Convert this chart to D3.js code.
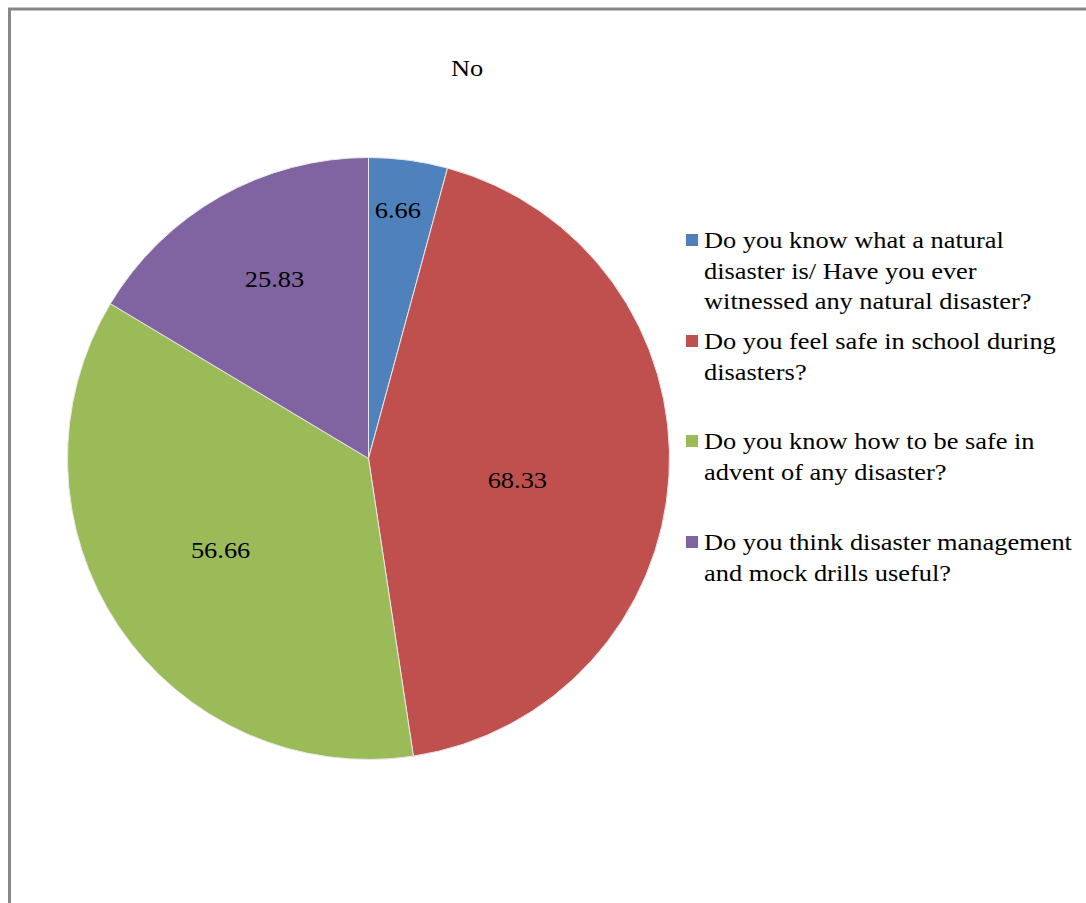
<!DOCTYPE html>
<html>
<head>
<meta charset="utf-8">
<script src="https://cdn.jsdelivr.net/npm/d3@7"></script>
<style>
  body { margin: 0; background: #fff; }
  svg text { font-family: "Liberation Serif", serif; fill: #000; }
</style>
</head>
<body>
<svg id="chart" width="1086" height="903"></svg>
<script>
// chart data
const title = "No";
const questions = [
  "Do you know what a natural disaster is/ Have you ever witnessed any natural disaster?",
  "Do you feel safe in school during disasters?",
  "Do you know how to be safe in advent of any disaster?",
  "Do you think disaster management and mock drills useful?"
];
const legendLines = [
  ["Do you know what a natural", "disaster is/ Have you ever", "witnessed any natural disaster?"],
  ["Do you feel safe in school during", "disasters?"],
  ["Do you know how to be safe in", "advent of any disaster?"],
  ["Do you think disaster management", "and mock drills useful?"]
];
const values = [6.66, 68.33, 56.66, 25.83];
const colors = ["#4F81BD", "#C0504D", "#9BBB59", "#8064A2"];

const svg = d3.select("#chart");
const fontSize = "24px";
const stretch = 1.1; // the original text is a bit wider than Liberation Serif

// outer frame (cut off at right and bottom like the original)
svg.append("rect")
  .attr("x", 9.5).attr("y", 9)
  .attr("width", 1100).attr("height", 920)
  .attr("fill", "none")
  .attr("stroke", "#878787")
  .attr("stroke-width", 3);

// title
svg.append("text")
  .attr("transform", `translate(467,76) scale(${stretch},1)`)
  .attr("text-anchor", "middle")
  .style("font-size", fontSize)
  .text(title);

const cx = 368.5, cy = 458.5, radius = 301;
const g = svg.append("g").attr("transform", `translate(${cx},${cy})`);

const data = questions.map((q, i) => ({ q, value: values[i], color: colors[i] }));
const pie = d3.pie().sort(null).value(d => d.value);
const arcs = pie(data);
const arc = d3.arc().innerRadius(0).outerRadius(radius);

g.selectAll("path.slice")
  .data(arcs)
  .join("path")
  .attr("class", "slice")
  .attr("d", arc)
  .attr("fill", d => d.data.color)
  .attr("stroke", "#e8e8e8")
  .attr("stroke-width", 1);

// label placement (fraction of radius) roughly like excel best fit
const labelFrac = [0.83, 0.5, 0.58, 0.67];
const labelTurn = [-0.015, 0.09, 0.03, 0.03];
g.selectAll("text.lbl")
  .data(arcs)
  .join("text")
  .attr("class", "lbl")
  .attr("text-anchor", "middle")
  .attr("dy", "0.3em")
  .style("font-size", fontSize)
  .attr("transform", (d, i) => {
    const a = (d.startAngle + d.endAngle) / 2 + labelTurn[i];
    const r = radius * labelFrac[i];
    return `translate(${r * Math.sin(a)},${-r * Math.cos(a)}) scale(${stretch},1)`;
  })
  .text(d => d3.format(".2f")(d.data.value));

// legend
const legendX = 686, legendTop = [241, 342, 442, 543], lineH = 30.5;
const legend = svg.append("g");
legendLines.forEach((lines, i) => {
  const item = legend.append("g");
  item.append("rect")
    .attr("x", legendX).attr("y", legendTop[i] - 7)
    .attr("width", 12).attr("height", 12)
    .attr("fill", colors[i]);
  item.selectAll("text")
    .data(lines)
    .join("text")
    .attr("transform", (d, j) => `translate(${legendX + 18},${legendTop[i] + j * lineH}) scale(${stretch},1)`)
    .attr("dy", "0.3em")
    .style("font-size", fontSize)
    .text(d => d);
});
</script>
</body>
</html>
